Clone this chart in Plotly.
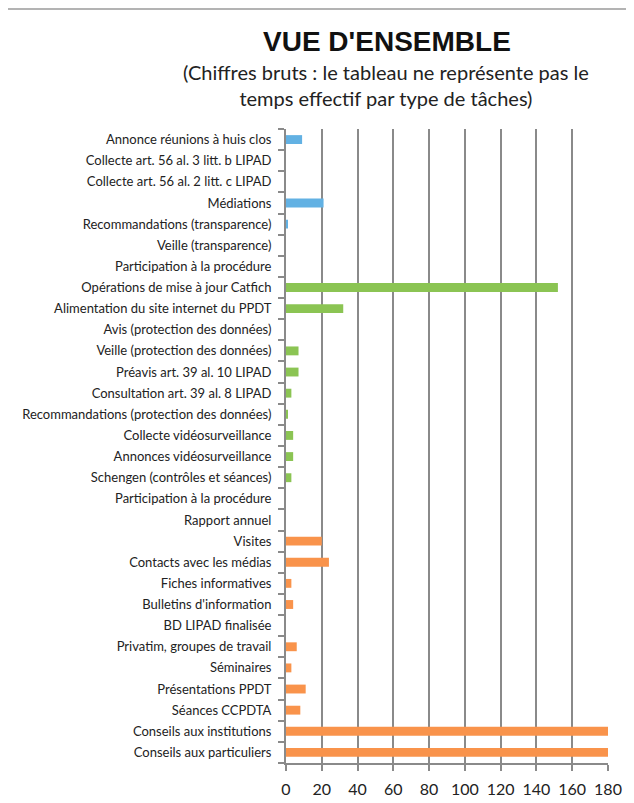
import plotly.graph_objects as go

# Categories, top to bottom
transparence_labels = [
    "Annonce réunions à huis clos",
    "Collecte art. 56 al. 3 litt. b LIPAD",
    "Collecte art. 56 al. 2 litt. c LIPAD",
    "Médiations",
    "Recommandations (transparence)",
    "Veille (transparence)",
    "Participation à la procédure",
]
transparence_values = [9, 0, 0, 21, 1, 0, 0]

protection_labels = [
    "Opérations de mise à jour Catfich",
    "Alimentation du site internet du PPDT",
    "Avis (protection des données)",
    "Veille (protection des données)",
    "Préavis art. 39 al. 10 LIPAD",
    "Consultation art. 39 al. 8 LIPAD",
    "Recommandations (protection des données)",
    "Collecte vidéosurveillance",
    "Annonces vidéosurveillance",
    "Schengen (contrôles et séances)",
]
protection_values = [152, 32, 0, 7, 7, 3, 1, 4, 4, 3]

general_labels = [
    "Participation à la procédure",
    "Rapport annuel",
    "Visites",
    "Contacts avec les médias",
    "Fiches informatives",
    "Bulletins d'information",
    "BD LIPAD finalisée",
    "Privatim, groupes de travail",
    "Séminaires",
    "Présentations PPDT",
    "Séances CCPDTA",
    "Conseils aux institutions",
    "Conseils aux particuliers",
]
general_values = [0, 0, 20, 24, 3, 4, 0, 6, 3, 11, 8, 185, 185]

x_ticks = [0, 20, 40, 60, 80, 100, 120, 140, 160, 180]

labels = transparence_labels + protection_labels + general_labels
n = len(labels)

# page body has an 8px margin; figure is sized to fit the window
OFF = 8
W, H = 634 - OFF, 803 - OFF
ML, MR, MT, MB = 286 - OFF, 634 - 608, 129 - OFF, 803 - 763
plot_w = W - ML - MR
plot_h = H - MT - MB


def px_x(px):
    return (px - OFF - ML) / plot_w


def px_y(py):
    return (H - MB - (py - OFF)) / plot_h


fig = go.Figure()
groups = [
    (transparence_values, "#62B1E3", 0),
    (protection_values, "#8BC453", len(transparence_labels)),
    (general_values, "#F9934B", len(transparence_labels) + len(protection_labels)),
]
for vals, color, offset in groups:
    fig.add_trace(go.Bar(
        x=vals,
        y=list(range(offset, offset + len(vals))),
        orientation="h",
        marker=dict(color=color, line=dict(width=0)),
        width=0.42,
        showlegend=False,
        cliponaxis=True,
    ))

fig.update_layout(
    width=W, height=H,
    margin=dict(l=ML, r=MR, t=MT, b=MB),
    paper_bgcolor="white",
    plot_bgcolor="white",
    font=dict(family="Lato, Open Sans, sans-serif", color="#222"),
)

fig.add_annotation(text="<b>VUE D'ENSEMBLE</b>", x=px_x(387), y=px_y(42), xref="paper", yref="paper",
                   showarrow=False, xanchor="center", yanchor="middle",
                   font=dict(family="Liberation Sans, Arial", size=28, color="#111"))
fig.add_annotation(text="(Chiffres bruts : le tableau ne représente pas le<br>temps effectif par type de tâches)",
                   x=px_x(386), y=px_y(85), xref="paper", yref="paper",
                   showarrow=False, xanchor="center", yanchor="middle", align="center",
                   font=dict(family="Lato, Open Sans", size=20, color="#222"))

fig.add_shape(type="line", xref="paper", yref="paper", x0=px_x(5), x1=px_x(5), y0=px_y(810), y1=px_y(9),
              line=dict(color="#9a9a9a", width=1.5))
fig.add_shape(type="line", xref="paper", yref="paper", x0=px_x(5), x1=px_x(640), y0=px_y(9), y1=px_y(9),
              line=dict(color="#9a9a9a", width=1.5))

fig.update_xaxes(
    range=[0, 180],
    tickvals=x_ticks,
    ticktext=[str(v) for v in x_ticks],
    showgrid=True, gridcolor="#8a8a8a", gridwidth=1.5,
    showline=True, linecolor="#8a8a8a", linewidth=2,
    ticks="outside", ticklen=6, tickcolor="#8a8a8a", tickwidth=1.5,
    tickfont=dict(family="Lato, Open Sans", size=16, color="#222"),
    ticklabelstandoff=5,
    automargin=False,
    zeroline=False,
    fixedrange=True,
)
fig.update_yaxes(
    range=[n - 0.5, -0.5],
    tickvals=list(range(n)),
    ticktext=labels,
    ticks="",
    showgrid=False,
    showline=True, linecolor="#8a8a8a", linewidth=2,
    tickfont=dict(family="Lato, Open Sans", size=13, color="#222"),
    ticklabelstandoff=10,
    automargin=False,
    minor=dict(tick0=0.5, dtick=1, ticks="outside", ticklen=6, tickcolor="#8a8a8a", tickwidth=1.5, showgrid=False),
    zeroline=False,
)

fig.write_html("out.html")
